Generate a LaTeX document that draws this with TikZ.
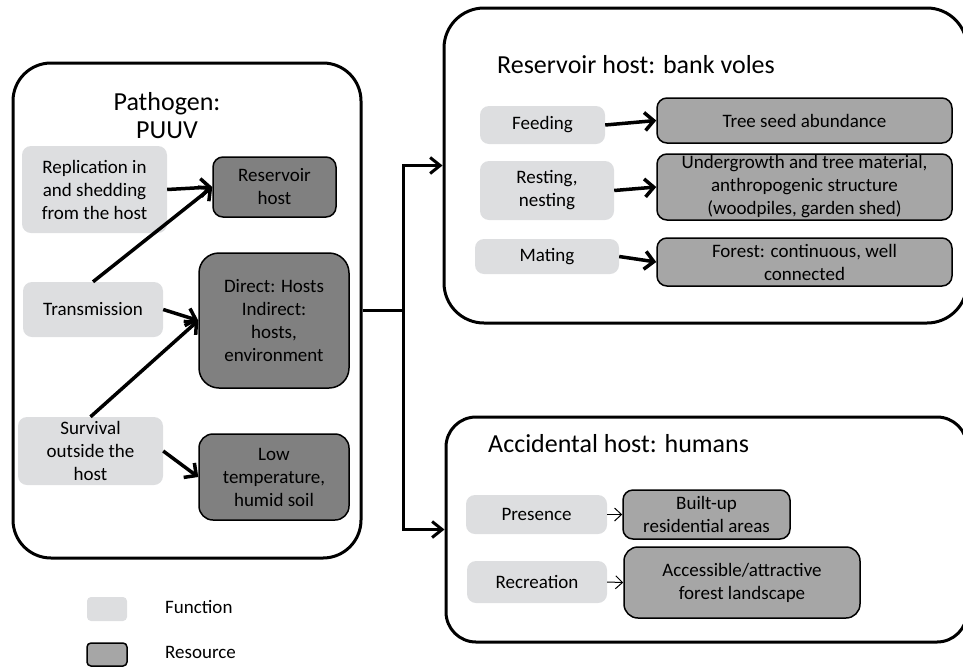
\documentclass[tikz,border=0pt]{standalone}
\usepackage{fontspec}
\setmainfont{Carlito}
\usetikzlibrary{arrows.meta}

\definecolor{funcgray}{RGB}{221,222,224}
\definecolor{resdark}{RGB}{128,128,128}
\definecolor{resgray}{RGB}{166,166,166}

\begin{document}
\begin{tikzpicture}[x=1pt, y=-1pt,
    font=\fontsize{19}{23}\selectfont,
    frame/.style={draw, line width=3pt, rounded corners=38pt, inner sep=0pt},
    title/.style={font=\fontsize{26}{28}\selectfont, inner sep=0pt},
    func/.style={fill=funcgray, rounded corners=9pt, inner sep=0pt, align=center},
    resdk/.style={draw, line width=1.5pt, fill=resdark, rounded corners=10pt, inner sep=0pt, align=center},
    reslt/.style={draw, line width=1.5pt, fill=resgray, rounded corners=10pt, inner sep=0pt, align=center},
    fatarrow/.style={line width=3.5pt, -{Straight Barb[length=9pt,width=18pt]}},
    thinarrow/.style={line width=1pt, -{Straight Barb[length=7pt,width=13pt]}},
    link/.style={line width=3pt}]
  \useasboundingbox (0,0) rectangle (963,667);
  \clip (0,0) rectangle (963,667);

  %–– Outer frames ––
  \node[frame, minimum width=348pt, minimum height=495pt] (pathogen) at (187,310.5) {};
  \node[frame, minimum width=523pt, minimum height=315pt, rounded corners=40pt] (reservoir) at (705.5,165.5) {};
  \node[frame, minimum width=521pt, minimum height=225pt, rounded corners=30pt] (accidental) at (706.5,529.5) {};

  %–– Titles ––
  \node[title, align=center] (pathtitle) at (167,116) {Pathogen:\\PUUV};
  \node[title, anchor=base west] (restitle) at (497,73) {Reservoir host: bank voles};
  \node[title, anchor=base west] (acctitle) at (488,452) {Accidental host: humans};

  %–– Pathogen ––
  \node[func, minimum width=145pt, minimum height=87pt] (repl) at (94.5,189.5) {Replication in\\and shedding\\from the host};
  \node[func, minimum width=140pt, minimum height=55pt] (trans) at (93,309.5) {Transmission};
  \node[func, minimum width=145pt, minimum height=68pt] (surv) at (90.5,451) {Survival\\outside the\\host};
  \node[resdk, minimum width=123pt, minimum height=60pt] (reshost) at (274.5,187) {Reservoir\\host};
  \node[resdk, minimum width=150pt, minimum height=135pt, rounded corners=20pt] (direct) at (274,320.5) {Direct: Hosts\\Indirect:\\hosts,\\environment};
  \node[resdk, minimum width=150pt, minimum height=86pt, rounded corners=14pt] (lowtemp) at (274,477) {Low\\temperature,\\humid soil};

  \draw[fatarrow] (repl.east) -- (reshost.west);
  \draw[fatarrow] (trans.north) -- (reshost.west);
  \draw[fatarrow] (trans.east) -- (direct.west);
  \draw[fatarrow] (surv.north) -- (direct.west);
  \draw[fatarrow] (surv.east) -- (lowtemp.west);

  %–– Reservoir host ––
  \node[func, minimum width=125pt, minimum height=38pt] (feed) at (542.5,125) {Feeding};
  \node[func, minimum width=134pt, minimum height=59pt] (rest) at (547,190.5) {Resting,\\nesting};
  \node[func, minimum width=144pt, minimum height=35pt] (mate) at (547,256.5) {Mating};
  \node[reslt, minimum width=295pt, minimum height=45pt] (seed) at (804.5,120.5) {Tree seed abundance};
  \node[reslt, minimum width=295pt, minimum height=66pt] (under) at (804.5,187) {Undergrowth and tree material,\\anthropogenic structure\\(woodpiles, garden shed)};
  \node[reslt, minimum width=295pt, minimum height=48pt] (forest) at (804.5,262) {Forest: continuous, well\\connected};

  \draw[fatarrow] (feed.east) -- (seed.west);
  \draw[fatarrow] (rest.east) -- (under.west);
  \draw[fatarrow] (mate.east) -- (forest.west);

  %–– Accidental host ––
  \node[func, minimum width=141pt, minimum height=39pt] (pres) at (536.5,514.5) {Presence};
  \node[func, minimum width=140pt, minimum height=42pt] (recr) at (537,582) {Recreation};
  \node[reslt, minimum width=167pt, minimum height=49pt] (built) at (706.5,514.5) {Built-up\\residential areas};
  \node[reslt, minimum width=236pt, minimum height=71pt, rounded corners=14pt] (access) at (742,582.5) {Accessible/attractive\\forest landscape};

  \draw[thinarrow] (pres.east) -- (built.west);
  \draw[thinarrow] (recr.east) -- (access.west);

  %–– Links between the hosts ––
  \draw[link] (pathogen.east) -- ++(41,0) coordinate (fork);
  \draw[link, -{Straight Barb[length=10pt,width=16pt]}] (fork) |- (reservoir.west);
  \draw[link, -{Straight Barb[length=10pt,width=16pt]}] (fork) |- (accidental.west);

  %–– Legend ––
  \node[func, rounded corners=4pt, minimum width=40pt, minimum height=24pt] (legfunc) at (107,609) {};
  \node[reslt, rounded corners=4pt, minimum width=40pt, minimum height=23pt] (legres) at (107,654.5) {};
  \node[anchor=west, inner sep=0pt] (legfunctxt) at (165,607) {Function};
  \node[anchor=west, inner sep=0pt] (legrestxt) at (165,652) {Resource};
\end{tikzpicture}
\end{document}
